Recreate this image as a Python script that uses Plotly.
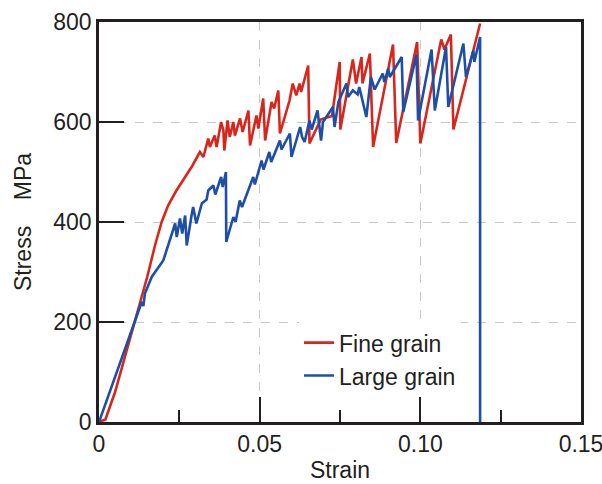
import plotly.graph_objects as go

# Fine grain (red) stress-strain curve
fine_strain = [0.0, 0.002, 0.005, 0.008, 0.0112, 0.015, 0.0175, 0.0195, 0.0215, 0.024, 0.0265,
               0.029, 0.0314, 0.0325, 0.034, 0.0345, 0.036, 0.0366, 0.038, 0.0387, 0.039, 0.040,
               0.0407, 0.0418, 0.0423, 0.0439, 0.0447, 0.0465, 0.047, 0.049, 0.0496, 0.0511,
               0.0517, 0.0537, 0.0545, 0.0558, 0.0563, 0.0593, 0.0603, 0.0614, 0.0624, 0.0629,
               0.0651, 0.0655, 0.069, 0.0725, 0.0749, 0.0751, 0.079, 0.080, 0.0817, 0.082,
               0.0843, 0.0853, 0.0915, 0.0925, 0.0990, 0.1000, 0.1065, 0.1075, 0.1095, 0.1103,
               0.1186]
fine_stress = [0, 5, 60, 130, 200, 290, 355, 400, 433, 462, 487,
               512, 540, 530, 567, 550, 573, 550, 600, 583, 543, 603,
               570, 600, 573, 607, 580, 623, 553, 613, 587, 647,
               563, 640, 627, 663, 577, 643, 677, 653, 677, 660,
               713, 557, 605, 612, 720, 585, 725, 677, 730, 677,
               737, 550, 755, 558, 760, 557, 765, 745, 775, 585,
               797]

# Large grain (blue) stress-strain curve
large_strain = [0.0, 0.005, 0.0112, 0.0133, 0.0138, 0.0143, 0.0164, 0.0185, 0.020, 0.0237,
                0.0242, 0.0252, 0.0259, 0.0268, 0.0273, 0.0288, 0.0293, 0.0303, 0.032, 0.0335,
                0.034, 0.0356, 0.0362, 0.038, 0.0385, 0.0395, 0.0396, 0.0418, 0.0425, 0.0438,
                0.0445, 0.048, 0.0485, 0.0506, 0.0512, 0.053, 0.0536, 0.0563, 0.0568, 0.0594,
                0.0599, 0.0626, 0.0632, 0.064, 0.0655, 0.0662, 0.068, 0.0691, 0.0697, 0.0728,
                0.0733, 0.0745, 0.077, 0.0775, 0.079, 0.0805, 0.081, 0.0832, 0.0846, 0.0858,
                0.0883, 0.0888, 0.0900, 0.0905, 0.0942, 0.0947, 0.0988, 0.0993, 0.1035, 0.1045,
                0.1080, 0.1087, 0.1134, 0.1142, 0.1165, 0.1168, 0.1186, 0.1186]
large_stress = [0, 90, 200, 240, 232, 257, 290, 310, 323, 397,
                370, 407, 377, 413, 353, 413, 430, 397, 437, 445,
                463, 473, 455, 490, 470, 500, 360, 410, 400, 443,
                430, 490, 475, 523, 505, 540, 520, 563, 545, 577,
                530, 590, 570, 560, 603, 585, 623, 563, 600, 630,
                590, 640, 677, 650, 663, 655, 670, 610, 690, 665,
                697, 680, 707, 690, 730, 620, 735, 603, 745, 623,
                750, 630, 757, 690, 743, 720, 770, 0]

x_ticks = [0, 0.05, 0.10, 0.15]
x_tick_labels = ["0", "0.05", "0.10", "0.15"]
x_minor_ticks = [0.025, 0.075, 0.125]
y_ticks = [0, 200, 400, 600, 800]
y_tick_labels = ["0", "200", "400", "600", "800"]

AXIS_COLOR = "#231f20"
FONT = "Liberation Sans, Arial, sans-serif"

fig = go.Figure()
fig.add_trace(go.Scatter(x=fine_strain, y=fine_stress, mode="lines", name="Fine grain",
                         line=dict(color="#d9261c", width=2.6)))
fig.add_trace(go.Scatter(x=large_strain, y=large_stress, mode="lines", name="Large grain",
                         line=dict(color="#1d4fa6", width=2.6)))

fig.update_layout(
    width=602, height=484,
    margin=dict(l=99, r=21, t=22, b=62),
    paper_bgcolor="white", plot_bgcolor="white",
    font=dict(family=FONT, size=23, color="#231f20"),
    showlegend=True,
    legend=dict(x=0.415, y=0.252, xanchor="left", yanchor="top",
                bgcolor="white", borderwidth=0,
                font=dict(family=FONT, size=23, color="#231f20"),
                tracegroupgap=0),
    xaxis=dict(
        range=[0, 0.15], tickmode="array", tickvals=x_ticks, ticktext=x_tick_labels,
        ticks="inside", ticklen=25, tickwidth=2, tickcolor=AXIS_COLOR,
        showline=True, linewidth=2.5, linecolor=AXIS_COLOR, mirror=True,
        showgrid=True, gridcolor="#c8c8c8", griddash="dash", gridwidth=1,
        zeroline=False, automargin=False, ticklabeloverflow="allow",
        minor=dict(tickvals=x_minor_ticks, ticks="inside", ticklen=12,
                   tickwidth=2, tickcolor=AXIS_COLOR, showgrid=False),
        title=dict(text="Strain", standoff=6, font=dict(size=23)),
        tickfont=dict(size=23),
    ),
    yaxis=dict(
        range=[0, 800], tickmode="array", tickvals=y_ticks, ticktext=y_tick_labels,
        ticks="inside", ticklen=25, tickwidth=2, tickcolor=AXIS_COLOR,
        showline=True, linewidth=2.5, linecolor=AXIS_COLOR, mirror=True,
        showgrid=True, gridcolor="#c8c8c8", griddash="dash", gridwidth=1,
        zeroline=False, automargin=False, ticklabeloverflow="allow",
        title=dict(text="Stress\u00a0\u00a0\u00a0\u00a0MPa", standoff=16, font=dict(size=23)),
        tickfont=dict(size=23),
    ),
)

fig.write_html("out.html", config={"displayModeBar": False},
               post_script="document.body.style.margin='0';")
